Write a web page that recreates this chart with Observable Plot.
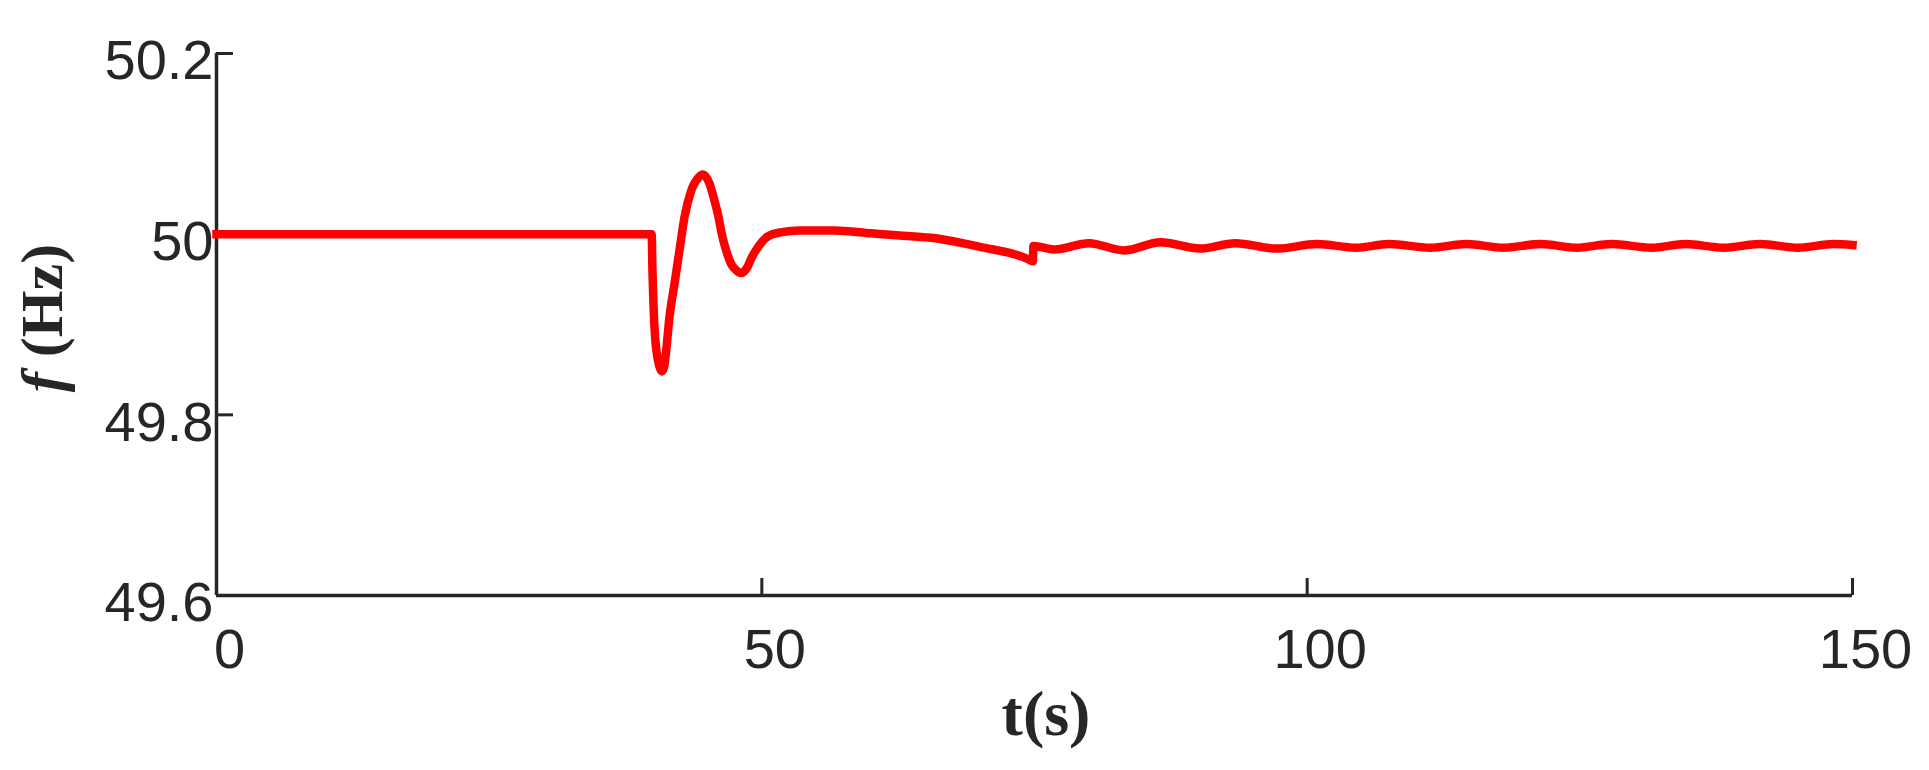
<!DOCTYPE html>
<html><head><meta charset="utf-8">
<script src="https://cdn.jsdelivr.net/npm/d3@7"></script>
<script src="https://cdn.jsdelivr.net/npm/@observablehq/plot@0.6"></script>
<style>body{margin:0;background:#fff}#chart{width:1929px;height:770px}</style>
</head><body><div id="chart"></div>
<script>
// time (s)
const time = [0, 39.9, 39.97, 40.07, 40.22, 40.45, 40.68, 40.86, 41.05, 41.23, 41.53, 41.99, 42.45, 42.91, 43.52, 44.22, 44.59, 45.2, 45.66, 46.03, 46.33, 46.73, 47.19, 47.58, 48.1, 48.6, 49.11, 49.72, 50.49, 51.71, 53.5, 56.6, 60, 62.1, 65.5, 70, 74.3, 74.85, 74.9, 76.8, 80.0, 83.2, 86.55, 90.2, 93.4, 97.2, 100.9, 104.5, 107.5, 111.3, 114.6, 118.0, 121.4, 124.7, 127.9, 131.6, 134.7, 138.2, 141.5, 145.0, 148.3, 150];
// frequency (Hz)
const freq = [50.0, 50.0, 49.96, 49.92, 49.885, 49.862, 49.851, 49.848, 49.854, 49.871, 49.908, 49.945, 49.982, 50.019, 50.048, 50.063, 50.066, 50.056, 50.037, 50.019, 50.0, 49.982, 49.967, 49.961, 49.957, 49.962, 49.975, 49.987, 49.997, 50.002, 50.004, 50.004, 50.001, 49.999, 49.996, 49.986, 49.973, 49.970, 49.987, 49.983, 49.990, 49.982, 49.991, 49.984, 49.990, 49.984, 49.989, 49.985, 49.989, 49.985, 49.989, 49.985, 49.989, 49.985, 49.989, 49.985, 49.989, 49.985, 49.989, 49.985, 49.989, 49.988];
const xTicks = [0, 50, 100, 150];
const yTicks = [49.6, 49.8, 50, 50.2];
const xTitle = "t(s)";
const yTitleItalic = "f";
const yTitleRest = " (Hz)";

const data = time.map((t, i) => ({t, f: freq[i]}));
const axisColor = "#262626";

const plot = Plot.plot({
  width: 1929, height: 770,
  marginLeft: 216, marginRight: 77, marginTop: 53, marginBottom: 175,
  style: {background: "#fff", fontFamily: "'Liberation Sans', Arial, sans-serif", fontSize: "56px", color: axisColor, overflow: "visible"},
  x: {domain: [0, 150]},
  y: {domain: [49.6, 50.2]},
  marks: [
    Plot.ruleX([0], {stroke: axisColor, strokeWidth: 3.5}),
    Plot.ruleY([49.6], {stroke: axisColor, strokeWidth: 3.5}),
    Plot.axisX({ticks: xTicks, tickSize: 0, tickPadding: 33, dx: 13, label: null, fill: axisColor, tickFormat: d => String(d)}),
    Plot.axisX({ticks: xTicks, tickSize: 17, dy: -17, fill: "none", label: null, stroke: axisColor, strokeWidth: 3}),
    Plot.axisY({ticks: yTicks, tickSize: 0, tickPadding: 3, dy: 8, label: null, fill: axisColor, tickFormat: d => String(+d.toFixed(1))}),
    Plot.axisY({ticks: yTicks, tickSize: 17, dx: 17, fill: "none", label: null, stroke: axisColor, strokeWidth: 3}),
    Plot.line(data, {x: "t", y: "f", stroke: "#ff0000", strokeWidth: 8.5, curve: "monotone-x", strokeLinecap: "square", strokeLinejoin: "round"})
  ]
});

const svg = d3.select(plot);
svg.append("text")
  .attr("transform", "translate(1046,735)")
  .attr("text-anchor", "middle")
  .style("font-family", "'Liberation Serif','Times New Roman',serif")
  .style("font-size", "64px").style("font-weight", "bold")
  .attr("fill", axisColor)
  .text(xTitle);
const yt = svg.append("text")
  .attr("transform", "translate(62,318) rotate(-90)")
  .attr("text-anchor", "middle")
  .style("font-family", "'Liberation Serif','Times New Roman',serif")
  .style("font-size", "60px").style("font-weight", "bold")
  .attr("fill", axisColor);
yt.append("tspan").style("font-style", "italic").text(yTitleItalic);
yt.append("tspan").text(yTitleRest);

document.getElementById("chart").appendChild(plot);
</script>
</body></html>
